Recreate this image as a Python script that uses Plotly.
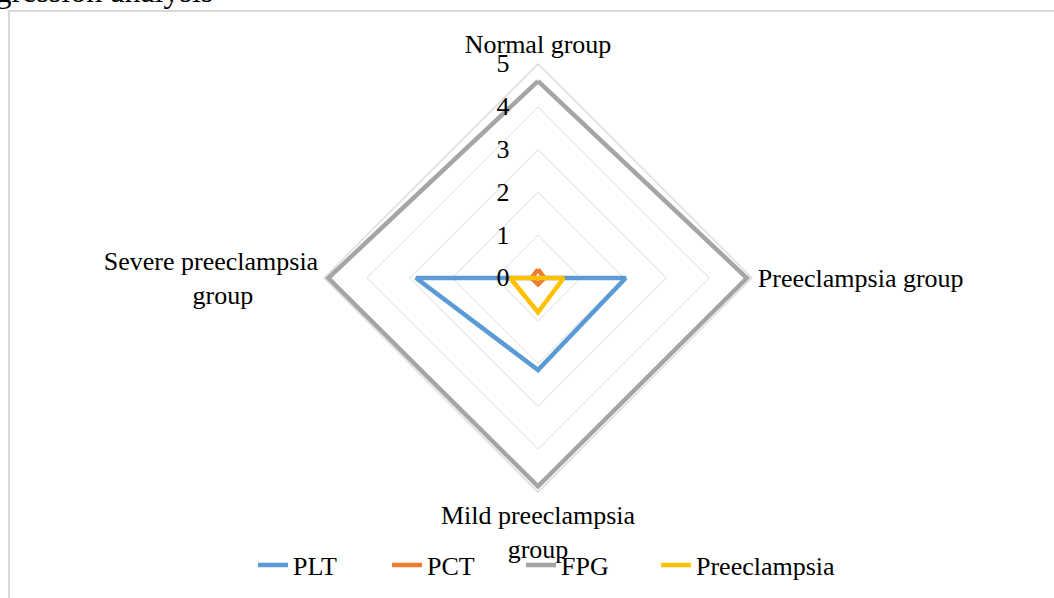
import plotly.graph_objects as go

NB = "\u00a0"

# Radar categories (clockwise from the top)
groups = ["Normal group", "Preeclampsia group",
          "Mild preeclampsia<br>group",
          "Severe preeclampsia<br>group" + NB * 10]

# Series values per group
plt_vals = [0.0, 2.05, 2.15, 2.85]
pct_vals = [0.2, 0.15, 0.15, 0.15]
fpg_vals = [4.6, 4.88, 4.87, 4.9]
pre_vals = [0.0, 0.6, 0.8, 0.65]

series = [
    ("PLT", plt_vals, "#5B9BD5", "legend"),
    ("PCT", pct_vals, "#ED7D31", "legend"),
    ("FPG", fpg_vals, "#A5A5A5", "legend"),
    ("Preeclampsia", pre_vals, "#FFC000", "legend2"),
]

radial_ticks = [0, 1, 2, 3, 4, 5]

W, H = 1054, 598
FONT = "Liberation Serif, Times New Roman, serif"

fig = go.Figure()
for name, vals, color, leg in series:
    fig.add_trace(go.Scatterpolar(
        r=vals + vals[:1],
        theta=groups + groups[:1],
        mode="lines",
        name=name,
        legend=leg,
        line=dict(color=color, width=4.5),
    ))

legend_style = dict(
    orientation="h",
    xanchor="left",
    y=1 - 565 / H, yanchor="middle",
    font=dict(size=26),
    bgcolor="rgba(0,0,0,0)",
    tracegroupgap=0,
)

# chart centre and outer radius in pixels
cx, cy, rad = 538, 278, 214
fig.update_layout(
    width=W, height=H,
    margin=dict(l=0, r=0, t=0, b=0),
    paper_bgcolor="white",
    plot_bgcolor="white",
    font=dict(family=FONT, size=26, color="black"),
    showlegend=True,
    legend=dict(legend_style, x=(265 - 12) / W,
                entrywidth=89, entrywidthmode="pixels"),
    legend2=dict(legend_style, x=(668 - 12) / W),
    polar=dict(
        domain=dict(x=[(cx - rad) / W, (cx + rad) / W],
                    y=[1 - (cy + rad) / H, 1 - (cy - rad) / H]),
        gridshape="linear",
        bgcolor="white",
        radialaxis=dict(
            range=[0, 5],
            tickvals=radial_ticks,
            angle=90,
            tickangle=90,
            side="counterclockwise",
            showline=False,
            ticks="outside",
            ticklen=19,
            tickcolor="rgba(0,0,0,0)",
            gridcolor="#D9D9D9",
            gridwidth=1.3,
            tickfont=dict(size=26),
        ),
        angularaxis=dict(
            direction="clockwise",
            rotation=90,
            showgrid=False,
            showline=True,
            linecolor="#D9D9D9",
            linewidth=1.3,
            ticks="",
            tickfont=dict(size=26),
        ),
    ),
    shapes=[dict(
        type="rect", xref="paper", yref="paper",
        x0=9 / W, x1=1.05, y0=-0.05, y1=1 - 11 / H,
        line=dict(color="#D9D9D9", width=2),
        fillcolor="rgba(0,0,0,0)", layer="below",
    )],
    annotations=[dict(
        text="Regression analysis",
        xref="paper", yref="paper",
        x=215 / W, xanchor="right",
        y=1 - 11 / H, yanchor="bottom",
        showarrow=False,
        font=dict(size=32, family=FONT),
    )],
)

fig.write_html("out.html")
